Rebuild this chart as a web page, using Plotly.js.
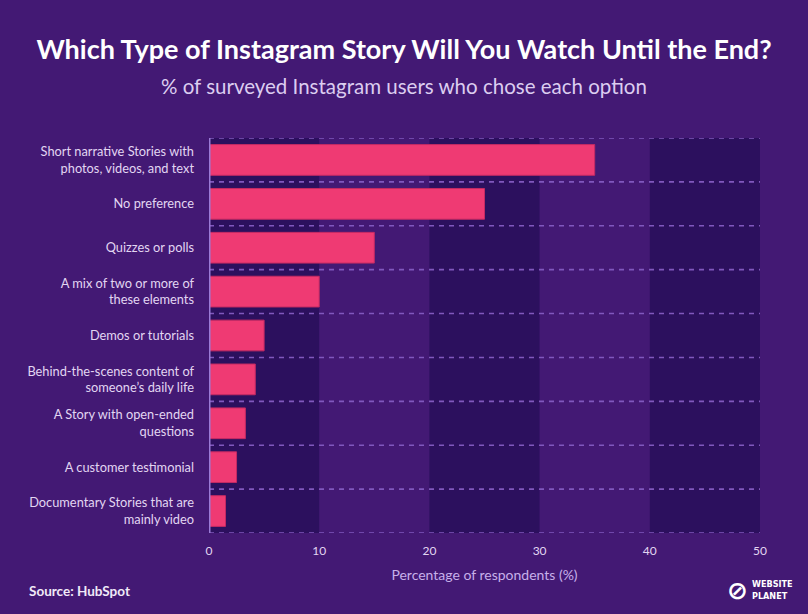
<!DOCTYPE html>
<html>
<head>
<meta charset="utf-8">
<script src="https://cdn.plot.ly/plotly-3.0.1.min.js"></script>
<style>
html,body{margin:0;padding:0;background:#431974;}
#chart{width:808px;height:614px;}
</style>
</head>
<body>
<div id="chart"></div>
<script>
const categories = [
  "Short narrative Stories with<br>photos, videos, and text",
  "No preference",
  "Quizzes or polls",
  "A mix of two or more of<br>these elements",
  "Demos or tutorials",
  "Behind-the-scenes content of<br>someone’s daily life",
  "A Story with open-ended<br>questions",
  "A customer testimonial",
  "Documentary Stories that are<br>mainly video"
];
const values = [35, 25, 15, 10, 5, 4.2, 3.3, 2.5, 1.5];
const xTicks = [0, 10, 20, 30, 40, 50];
const darkBands = [[0, 10], [20, 30], [40, 50]];

const W = 808, H = 614;
const M = {l: 209, r: 48, t: 138, b: 81};
const px = x => (x - M.l) / (W - M.l - M.r);
const py = y => (H - M.b - y) / (H - M.t - M.b);

const bg = '#431974';
const shapes = [];
darkBands.forEach(b => shapes.push({
  type: 'rect', xref: 'x', yref: 'paper', x0: b[0], x1: b[1], y0: 0, y1: 1,
  fillcolor: '#2c105e', line: {width: 0}, layer: 'below'
}));
for (let i = 0; i <= categories.length; i++) {
  shapes.push({
    type: 'line', xref: 'x', yref: 'y', x0: 0, x1: 50, y0: i - 0.5, y1: i - 0.5,
    line: {color: '#8058bd', width: 1.6, dash: '5px,5px'}, layer: 'below'
  });
}
shapes.push({
  type: 'line', xref: 'x', yref: 'paper', x0: 0, x1: 0, y0: 0, y1: 1,
  line: {color: '#9a7bd6', width: 3}, layer: 'above'
});

const trace = {
  type: 'bar', orientation: 'h',
  x: values, y: categories.map((c, i) => i),
  marker: {color: '#ef3a73', line: {color: '#c42a63', width: 1}},
  hoverinfo: 'skip'
};

const layout = {
  width: W, height: H,
  paper_bgcolor: bg, plot_bgcolor: bg,
  margin: M,
  bargap: 0.3,
  showlegend: false,
  title: {
    text: '<b>Which Type of Instagram Story Will You Watch Until the End?</b>',
    font: {family: 'Lato', size: 27, color: '#ffffff', weight: 900},
    x: 0.5, xanchor: 'center', xref: 'container', y: 1 - 50 / H, yanchor: 'middle', yref: 'container'
  },
  xaxis: {
    range: [0, 50], tickvals: xTicks, ticktext: xTicks.map(String),
    showgrid: false, zeroline: false, showline: false, ticks: '',
    ticklabelstandoff: 9,
    tickfont: {family: 'Lato', size: 12, color: '#e2d6f2'},
    title: {text: 'Percentage of respondents (%)', font: {family: 'Lato', size: 14, color: '#c7b0ea'}, standoff: 13},
    fixedrange: true
  },
  yaxis: {
    range: [categories.length - 0.5, -0.5],
    tickvals: categories.map((c, i) => i), ticktext: categories,
    showgrid: false, zeroline: false, showline: false, ticks: '',
    ticklabelstandoff: 14,
    tickfont: {family: 'Lato', size: 12.8, color: '#e2d6f2'},
    fixedrange: true
  },
  shapes: shapes,
  annotations: [
    {text: '% of surveyed Instagram users who chose each option', xref: 'paper', yref: 'paper',
     x: px(404), y: py(86), xanchor: 'center', yanchor: 'middle', showarrow: false,
     font: {family: 'Lato', size: 20.5, color: '#dccdf0'}},
    {text: '<b>Source: HubSpot</b>', xref: 'paper', yref: 'paper', x: px(27), y: py(591),
     xanchor: 'left', yanchor: 'middle', showarrow: false,
     font: {family: 'Lato', size: 13.5, color: '#f0eaf8'}},
    {text: '<b>WEBSITE<br>PLANET</b>', xref: 'paper', yref: 'paper', x: px(750), y: py(590),
     xanchor: 'left', yanchor: 'middle', showarrow: false, align: 'left',
     font: {family: 'DejaVu Sans Condensed', size: 9, color: '#ffffff'}},
    {text: '<b>⊘</b>', xref: 'paper', yref: 'paper', x: px(737), y: py(590),
     xanchor: 'center', yanchor: 'middle', showarrow: false,
     font: {family: 'DejaVu Sans', size: 25, color: '#ffffff'}}
  ]
};

Plotly.newPlot('chart', [trace], layout, {staticPlot: true, displayModeBar: false});
</script>
</body>
</html>
